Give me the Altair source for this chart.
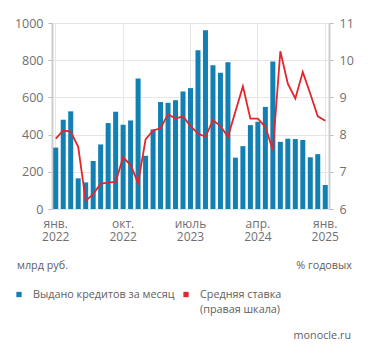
import altair as alt
import pandas as pd

months = ["2022-01", "2022-02", "2022-03", "2022-04", "2022-05", "2022-06",
          "2022-07", "2022-08", "2022-09", "2022-10", "2022-11", "2022-12",
          "2023-01", "2023-02", "2023-03", "2023-04", "2023-05", "2023-06",
          "2023-07", "2023-08", "2023-09", "2023-10", "2023-11", "2023-12",
          "2024-01", "2024-02", "2024-03", "2024-04", "2024-05", "2024-06",
          "2024-07", "2024-08", "2024-09", "2024-10", "2024-11", "2024-12",
          "2025-01"]
loans = [330, 480, 525, 165, 143, 258, 347, 462, 523, 453, 476, 702,
         286, 428, 575, 571, 585, 632, 650, 854, 961, 773, 732, 789,
         276, 338, 451, 469, 549, 793, 361, 378, 376, 371, 278, 295,
         129]
rate = [7.89, 8.11, 8.08, 7.67, 6.22, 6.40, 6.68, 6.71, 6.73, 7.39, 7.18, 6.70,
        7.87, 8.11, 8.17, 8.55, 8.43, 8.49, 8.23, 8.03, 7.94, 8.39, 8.23, 7.94,
        8.62, 9.30, 8.43, 8.43, 8.21, 7.58, 10.24, 9.37, 8.97, 9.68, 9.10, 8.49,
        8.37]
tick_months = ["2022-01", "2022-10", "2023-07", "2024-04", "2025-01"]
tick_labels = [["янв.", "2022"], ["окт.", "2022"], ["июль", "2023"],
               ["апр.", "2024"], ["янв.", "2025"]]
left_ticks = [0, 200, 400, 600, 800, 1000]
right_ticks = [6, 7, 8, 9, 10, 11]

df = pd.DataFrame({"month": months, "loans": loans, "rate": rate})
dummy = pd.DataFrame({"a": [0]})

expr = ""
for m, (l1, l2) in zip(tick_months, tick_labels):
    expr += f"datum.value == '{m}' ? ['{l1}', '{l2}'] : "
expr += "''"

FONT = "Open Sans"
TFONT = "Open Sans"
GRID = "#e6e6e6"
LBL = "#707070"

x = alt.X("month:O",
          scale=alt.Scale(paddingInner=0.33, paddingOuter=0.165),
          axis=alt.Axis(values=tick_months, labelExpr=expr, labelAngle=0,
                        grid=True, gridColor=GRID, ticks=False,
                        domainColor="#d8e4ea", labelColor=LBL, labelFontSize=12,
                        labelPadding=9, labelLineHeight=13, title=None,
                        labelFont=FONT))

bars = alt.Chart(df).mark_bar(color="#1380b4").encode(
    x=x,
    y=alt.Y("loans:Q", scale=alt.Scale(domain=[0, 1000]),
            axis=alt.Axis(values=left_ticks, orient="left", title=None, grid=True,
                          format="d",
                          gridColor=GRID, tickColor="#bbbbbb", tickSize=4,
                          domainColor="#cccccc", domainWidth=2,
                          labelColor=LBL, labelFontSize=12.5, labelPadding=5,
                          labelFont=FONT)),
)

line = alt.Chart(df).mark_line(color="#e3262b", strokeWidth=1.8).encode(
    x=x,
    y=alt.Y("rate:Q", scale=alt.Scale(domain=[6, 11], zero=False),
            axis=alt.Axis(values=right_ticks, orient="right", title=None, grid=False,
                          format="d",
                          tickColor="#bbbbbb", tickSize=4,
                          domainColor="#cccccc", domainWidth=2,
                          labelColor=LBL, labelFontSize=12.5, labelPadding=6,
                          labelFont=FONT)),
)


def txt(s, xv, yv, align="left", size=10.8, color="#606060"):
    return alt.Chart(dummy).mark_text(align=align, baseline="middle", fontSize=size,
                                      color=color, font=TFONT).encode(
        x=alt.value(xv), y=alt.value(yv), text=alt.value(s))


def sq(color, xv, yv):
    return alt.Chart(dummy).mark_square(color=color, opacity=1, size=28).encode(
        x=alt.value(xv), y=alt.value(yv))


annots = [
    txt("млрд руб.", -35, 243),
    txt("% годовых", 300, 243, align="right"),
    sq("#1380b4", -33, 271.5),
    txt("Выдано кредитов за месяц", -19, 271.5),
    sq("#e3262b", 134, 271.5),
    txt("Средняя ставка", 148, 271.5),
    txt("(правая шкала)", 148, 286.5),
    txt("monocle.ru", 299, 313, align="right"),
]

main = alt.layer(bars, line).resolve_scale(y="independent")
chart = alt.layer(main, *annots).properties(
    width=277, height=186,
    autosize=alt.AutoSizeParams(type="none"),
    padding={"left": 44, "top": 15, "right": 34, "bottom": 135},
).configure_view(stroke=None).configure(font=FONT)

chart.save("out.html", embed_options={"renderer": "svg", "actions": False})
